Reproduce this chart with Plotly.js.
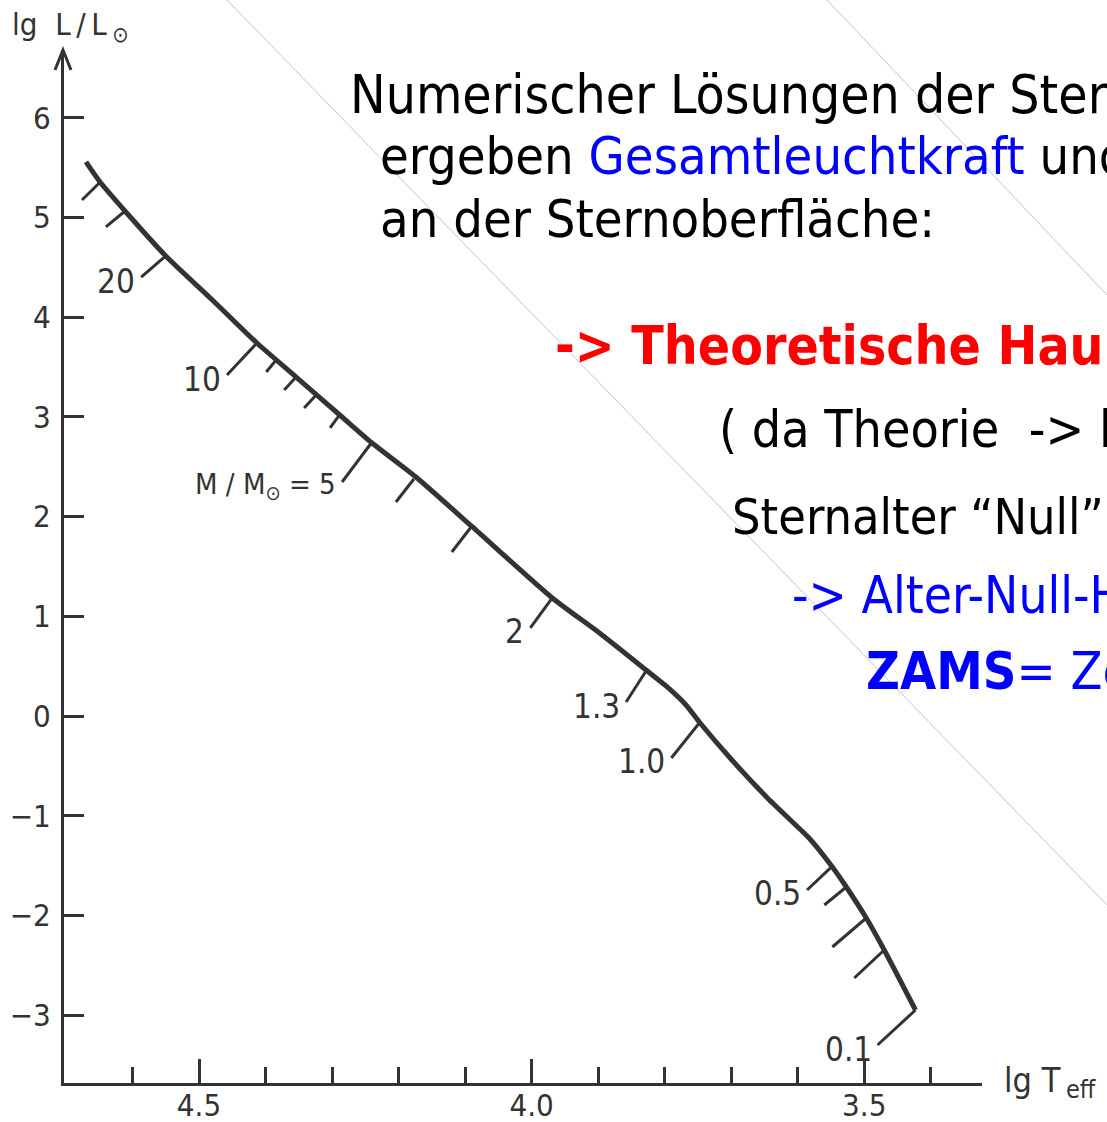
<!DOCTYPE html>
<html>
<head>
<meta charset="utf-8">
<script src="https://cdn.plot.ly/plotly-3.0.1.min.js"></script>
<style>
  html, body { margin: 0; padding: 0; background: #fff; }
  #chart { width: 1107px; height: 1122px; }
</style>
</head>
<body>
<div id="chart"></div>
<script>
// Zero-age main sequence track: lg Teff and lg L/Lsun
const zamsLgTeff = [4.670, 4.650, 4.610, 4.550, 4.480, 4.413, 4.354, 4.285, 4.240, 4.174, 4.089, 3.969, 3.898,
                    3.828, 3.798, 3.768, 3.748, 3.699, 3.647, 3.608, 3.583, 3.548, 3.527, 3.497, 3.470, 3.423];
const zamsLgL    = [5.557, 5.366, 5.055, 4.614, 4.173, 3.741, 3.400, 2.999, 2.738, 2.397, 1.896, 1.184, 0.832,
                    0.461, 0.301, 0.110, -0.060, -0.441, -0.812, -1.063, -1.224, -1.515, -1.715, -2.026, -2.347, -2.949];

// Stellar-mass marks along the track: foot on the curve, tip of the mark, label
const massLabels = ['', '', '20', '10', '', '', '', '', 'M / M<sub>⊙</sub> = 5', '', '', '2', '1.3', '1.0', '0.5', '', '', '', '0.1'];
const massBaseT  = [4.650, 4.613, 4.550, 4.413, 4.384, 4.354, 4.324, 4.289, 4.241, 4.177, 4.091, 3.969, 3.828, 3.748, 3.548, 3.527, 3.497, 3.470, 3.423];
const massBaseL  = [5.346, 5.055, 4.614, 3.741, 3.571, 3.400, 3.220, 3.019, 2.738, 2.377, 1.896, 1.184, 0.451, -0.070, -1.505, -1.715, -2.026, -2.347, -2.949];
const massTipT   = [4.676, 4.640, 4.587, 4.458, 4.399, 4.372, 4.342, 4.303, 4.285, 4.204, 4.120, 4.002, 3.858, 3.790, 3.586, 3.560, 3.548, 3.515, 3.480];
const massTipL   = [5.176, 4.905, 4.403, 3.420, 3.450, 3.270, 3.089, 2.889, 2.347, 2.146, 1.645, 0.883, 0.140, -0.421, -1.745, -1.896, -2.317, -2.628, -3.300];

// Axes
const yTickVals    = [-3, -2, -1, 0, 1, 2, 3, 4, 5, 6];
const xMajorVals   = [4.5, 4.0, 3.5];
const xMajorText   = ['4.5', '4.0', '3.5'];
const xMinorVals   = [4.6, 4.4, 4.3, 4.2, 4.1, 3.9, 3.8, 3.7, 3.6, 3.4];
const xRange = [4.703, 3.323];
const yRange = [-3.681, 6.68];

// ---- layout geometry ----
const W = 1107, H = 1122;
const M = { l: 64, r: 125, t: 50, b: 39 };
const plotW = W - M.l - M.r, plotH = H - M.t - M.b;
const px = (x) => (x - M.l) / plotW;          // page x -> paper
const py = (y) => (H - M.b - y) / plotH;      // page y -> paper

const ink = '#333333';
const figFont = 'DejaVu Sans Condensed, DejaVu Sans, sans-serif';
const slideFont = 'DejaVu Sans Condensed, DejaVu Sans, sans-serif';
const BLUE = '#0000ff', RED = '#ff0000';

// track
const track = {
  type: 'scatter', mode: 'lines',
  x: zamsLgTeff, y: zamsLgL,
  line: { color: ink, width: 5, shape: 'spline', smoothing: 0.6 },
  hoverinfo: 'skip', showlegend: false
};

// mass marks as separate segments
const segX = [], segY = [];
massBaseT.forEach((t, i) => {
  segX.push(t, massTipT[i], null);
  segY.push(massBaseL[i], massTipL[i], null);
});
const marks = {
  type: 'scatter', mode: 'lines', x: segX, y: segY,
  line: { color: ink, width: 3 }, hoverinfo: 'skip', showlegend: false
};

const annotations = [];

massLabels.forEach((lab, i) => {
  if (!lab) return;
  annotations.push({
    xref: 'x', yref: 'y', x: massTipT[i], y: massTipL[i],
    text: lab, showarrow: false, xanchor: 'right', yanchor: 'middle',
    xshift: -4, yshift: -4,
    font: { family: figFont, size: lab.startsWith('M') ? 29 : 33, color: ink }
  });
});

// axis titles
const thin = '\u2009', nb = '\u00a0';
annotations.push({
  xref: 'paper', yref: 'paper', x: px(10), y: py(26), xanchor: 'left', yanchor: 'middle',
  text: 'lg' + nb + ' L' + thin + '/' + thin + 'L' + thin + '<sub>⊙</sub>', showarrow: false,
  font: { family: figFont, size: 31, color: ink }
});
annotations.push({
  xref: 'paper', yref: 'paper', x: px(1002), y: py(1080), xanchor: 'left', yanchor: 'middle',
  text: 'lg T', showarrow: false, font: { family: figFont, size: 34, color: ink }
});
annotations.push({
  xref: 'paper', yref: 'paper', x: px(1064), y: py(1089), xanchor: 'left', yanchor: 'middle',
  text: 'eff', showarrow: false, font: { family: figFont, size: 25, color: ink }
});

// slide text
const slideLines = [
  { x: 348, y: 95,  size: 53,   text: 'Numerischer Lösungen der Sternaufbaugleichungen' },
  { x: 378, y: 156, size: 52,   text: 'ergeben <span style="color:' + BLUE + '">Gesamtleuchtkraft</span> und Temperatur' },
  { x: 378, y: 219, size: 52,   text: 'an der Sternoberfläche:' },
  { x: 553, y: 345, size: 53,   text: '<b><span style="color:' + RED + '">-> Theoretische Hauptreihe</span></b>' },
  { x: 717, y: 429, size: 51.5, text: '( da Theorie ' + nb + '-> lange Zeit' },
  { x: 730, y: 517, size: 50,   text: 'Sternalter “Null” )' },
  { x: 790, y: 595, size: 51,   text: '<span style="color:' + BLUE + '">-> Alter-Null-Hauptreihe</span>' },
  { x: 864, y: 671, size: 52,   text: '<span style="color:' + BLUE + '"><b>ZAMS</b>= Zero Age Main Sequence</span>' }
];
slideLines.forEach(l => annotations.push({
  xref: 'paper', yref: 'paper', x: px(l.x), y: py(l.y), xanchor: 'left', yanchor: 'middle',
  text: l.text, showarrow: false, align: 'left',
  font: { family: slideFont, size: l.size, color: '#000000' }
}));

// faint paper creases and the y-axis arrowhead
const shapes = [
  { type: 'line', xref: 'paper', yref: 'paper', x0: px(227), y0: py(0), x1: px(1107), y1: py(905),
    line: { color: 'rgba(110,110,110,0.4)', width: 1 } },
  { type: 'line', xref: 'paper', yref: 'paper', x0: px(827), y0: py(0), x1: px(1107), y1: py(295),
    line: { color: 'rgba(110,110,110,0.4)', width: 1 } },
  { type: 'path', xref: 'paper', yref: 'paper',
    path: `M ${px(55)},${py(70)} L ${px(63)},${py(50)} L ${px(71)},${py(70)}`,
    line: { color: ink, width: 3 } }
];

const layout = {
  width: W, height: H, margin: M,
  paper_bgcolor: '#ffffff', plot_bgcolor: '#ffffff',
  showlegend: false,
  xaxis: {
    range: xRange, showgrid: false, zeroline: false,
    showline: true, linecolor: ink, linewidth: 3,
    tickmode: 'array', tickvals: xMajorVals, ticktext: xMajorText,
    ticks: 'inside', ticklen: 24, tickwidth: 3, tickcolor: ink,
    ticklabelstandoff: -7,
    tickfont: { family: figFont, size: 31, color: ink },
    minor: { tickmode: 'array', tickvals: xMinorVals, ticks: 'inside', ticklen: 16, tickwidth: 3, tickcolor: ink }
  },
  yaxis: {
    range: yRange, showgrid: false, zeroline: false,
    showline: true, linecolor: ink, linewidth: 3,
    tickmode: 'array', tickvals: yTickVals,
    ticks: 'inside', ticklen: 20, tickwidth: 3, tickcolor: ink,
    ticklabelstandoff: 4,
    tickfont: { family: figFont, size: 31, color: ink }
  },
  annotations: annotations,
  shapes: shapes
};

Plotly.newPlot('chart', [track, marks], layout, { displayModeBar: false, staticPlot: true });
</script>
</body>
</html>
